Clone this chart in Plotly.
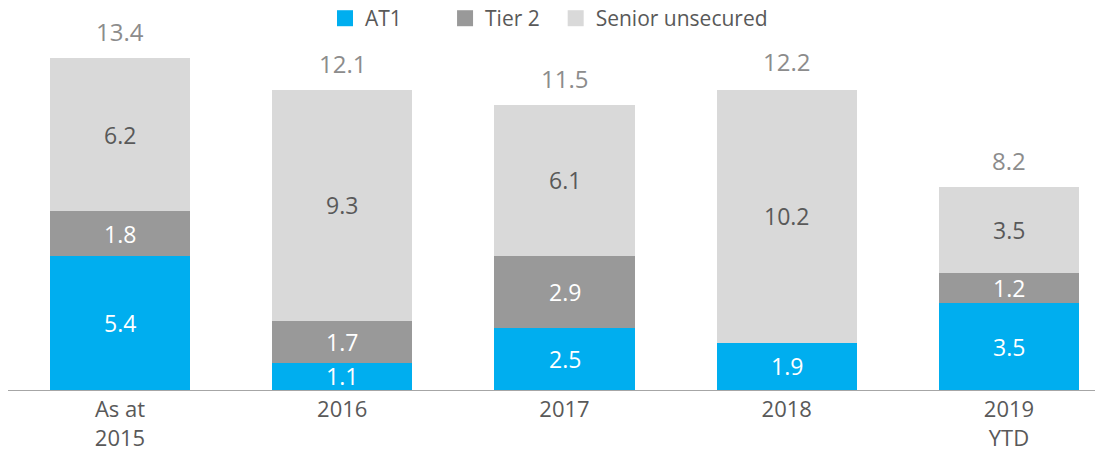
import plotly.graph_objects as go

categories = ["As at<br>2015", "2016", "2017", "2018", "2019<br>YTD"]
at1 = [5.4, 1.1, 2.5, 1.9, 3.5]
tier2 = [1.8, 1.7, 2.9, 0.0, 1.2]
senior = [6.2, 9.3, 6.1, 10.2, 3.5]
totals = [13.4, 12.1, 11.5, 12.2, 8.2]

NB = "\u00a0"
series = [
    ("AT1", at1, "#00AEEF", "#FFFFFF", 7),
    ("Tier 2", tier2, "#999999", "#FFFFFF", 2),
    ("Senior unsecured", senior, "#D9D9D9", "#595959", 0),
]

FONT = "Open Sans"
fig = go.Figure()

for name, vals, color, tcolor, pad in series:
    fig.add_trace(go.Bar(
        x=categories, y=vals, name=name, marker=dict(color=color, line=dict(width=0)),
        width=0.63, showlegend=False, hoverinfo="skip",
    ))
    # legend proxy
    fig.add_trace(go.Scatter(
        x=[categories[0]], y=[None], mode="markers", name=name + NB * pad,
        marker=dict(symbol="square", size=16, color=color), showlegend=True,
    ))

annotations = []
base = [0.0] * len(categories)
for name, vals, color, tcolor, pad in series:
    for i, v in enumerate(vals):
        if v > 0:
            annotations.append(dict(
                x=i, y=base[i] + v / 2, text=f"{v:.1f}", showarrow=False,
                xanchor="center", yanchor="middle",
                font=dict(family=FONT, size=23, color=tcolor),
            ))
        base[i] += v

for i, t in enumerate(totals):
    annotations.append(dict(
        x=i, y=t, text=f"{t:.1f}", showarrow=False,
        xanchor="center", yanchor="middle", yshift=26,
        font=dict(family=FONT, size=24, color="#8C8C8C"),
    ))

fig.update_layout(
    barmode="stack",
    width=1095, height=448,
    margin=dict(l=0, r=0, t=0, b=66, autoexpand=False),
    paper_bgcolor="white", plot_bgcolor="white",
    font=dict(family=FONT, color="#595959"),
    annotations=annotations,
    legend=dict(
        orientation="h", x=0.2895, xanchor="left", y=1.026, yanchor="top",
        traceorder="normal",
        font=dict(family=FONT, size=21, color="#595959"),
        itemsizing="trace", bgcolor="rgba(0,0,0,0)",
    ),
    xaxis=dict(
        type="category", categoryorder="array", categoryarray=categories,
        range=[-0.504, 4.423], showline=True, linecolor="#A6A6A6", linewidth=1,
        showgrid=False, zeroline=False, ticks="",
        tickfont=dict(family=FONT, size=22, color="#595959"),
    ),
    yaxis=dict(range=[0, 15.40], visible=False, showgrid=False, zeroline=False),
)

fig.write_html("out.html")
